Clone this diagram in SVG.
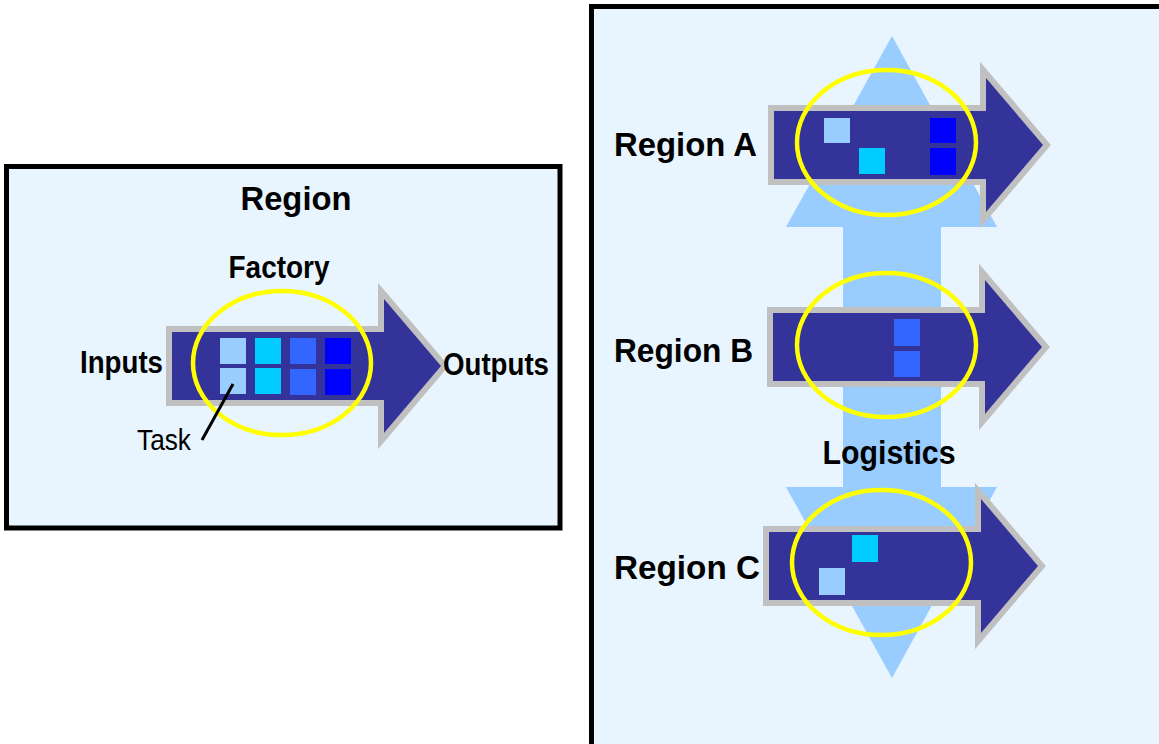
<svg xmlns="http://www.w3.org/2000/svg" width="1159" height="744" viewBox="0 0 1159 744">
  <style>
    .frame { fill: #E8F5FE; stroke: #000000; stroke-width: 5; }
    .flow { fill: #333399; stroke: #C0C0C0; stroke-width: 12; stroke-linejoin: miter; paint-order: stroke; }
    .ring { fill: none; stroke: #FFFF00; stroke-width: 4.5; }
    .t1 { fill: #99CCFF; }
    .t2 { fill: #00CCFF; }
    .t3 { fill: #3366FF; }
    .t4 { fill: #0000FF; }
    .geo { font-family: "Liberation Sans", Arial, sans-serif; font-weight: bold; font-size: 33px; fill: #000000; }
    .narrow { font-family: "Liberation Sans", Arial, sans-serif; font-weight: bold; font-size: 31px; fill: #000000; }
    .plain { font-family: "Liberation Sans", Arial, sans-serif; font-size: 30px; fill: #000000; }
    .leader { stroke: #000000; stroke-width: 3; fill: none; }
  </style>
  <defs>
    <!-- block arrow, origin at the middle of its tail -->
    <path id="flowArrow" d="M0,-34 L212,-34 L212,-67 L269,0 L212,67 L212,34 L0,34 Z"/>
  </defs>

  <rect width="1159" height="744" fill="#FFFFFF"/>

  <!-- single region -->
  <g id="region-box">
    <rect class="frame" x="6.5" y="166.5" width="553.5" height="361.5"/>
    <text class="geo" x="296" y="210" text-anchor="middle" textLength="111" lengthAdjust="spacingAndGlyphs">Region</text>
  </g>

  <g id="factory">
    <use href="#flowArrow" class="flow" x="172" y="366"/>
    <rect class="t1" x="220" y="338" width="26" height="26"/>
    <rect class="t1" x="220" y="368" width="26" height="26"/>
    <rect class="t2" x="255" y="338" width="26" height="26"/>
    <rect class="t2" x="255" y="368" width="26" height="26"/>
    <rect class="t3" x="290" y="338" width="26" height="26"/>
    <rect class="t3" x="290" y="369" width="26" height="26"/>
    <rect class="t4" x="325" y="338" width="26" height="26"/>
    <rect class="t4" x="325" y="369" width="26" height="26"/>
    <ellipse class="ring" cx="282" cy="363" rx="89" ry="72"/>
    <text class="narrow" x="279" y="278" text-anchor="middle" textLength="101" lengthAdjust="spacingAndGlyphs">Factory</text>
  </g>

  <g id="inputs">
    <text class="narrow" x="80" y="373" textLength="83" lengthAdjust="spacingAndGlyphs">Inputs</text>
  </g>
  <g id="outputs">
    <text class="narrow" x="443" y="375" textLength="106" lengthAdjust="spacingAndGlyphs">Outputs</text>
  </g>
  <g id="task">
    <text class="plain" x="137" y="450" textLength="54" lengthAdjust="spacingAndGlyphs">Task</text>
  </g>

  <!-- several regions joined by logistics -->
  <g id="regions-box">
    <rect class="frame" x="591.5" y="6.5" width="620" height="800"/>
  </g>

  <g id="logistics">
    <polygon fill="#99CCFF" points="892,36 997,227 941,227 941,487 997,487 892,678 786,487 843,487 843,227 786,227"/>
  </g>

  <g id="region-a">
    <use href="#flowArrow" class="flow" x="774" y="145"/>
    <rect class="t1" x="824" y="118" width="26" height="25"/>
    <rect class="t2" x="859" y="148" width="26" height="26"/>
    <rect class="t4" x="930" y="118" width="26" height="25"/>
    <rect class="t4" x="930" y="148" width="26" height="27"/>
    <ellipse class="ring" cx="886.5" cy="142.5" rx="89.5" ry="72.5"/>
    <text class="geo" x="614" y="156" textLength="143" lengthAdjust="spacingAndGlyphs">Region A</text>
  </g>

  <g id="region-b">
    <use href="#flowArrow" class="flow" x="773" y="347"/>
    <rect class="t3" x="894" y="319" width="26" height="27"/>
    <rect class="t3" x="894" y="351" width="26" height="26"/>
    <ellipse class="ring" cx="886.5" cy="345" rx="89.5" ry="72"/>
    <text class="geo" x="614" y="362" textLength="139" lengthAdjust="spacingAndGlyphs">Region B</text>
  </g>

  <g id="region-c">
    <use href="#flowArrow" class="flow" x="769" y="566"/>
    <rect class="t2" x="852" y="535" width="26" height="27"/>
    <rect class="t1" x="819" y="568" width="26" height="27"/>
    <ellipse class="ring" cx="881.5" cy="562.5" rx="89.5" ry="72.5"/>
    <text class="geo" x="614" y="579" textLength="146" lengthAdjust="spacingAndGlyphs">Region C</text>
  </g>

  <g id="logistics-label">
    <text class="geo" x="889" y="464" text-anchor="middle" textLength="133" lengthAdjust="spacingAndGlyphs">Logistics</text>
  </g>

  <g id="connectors">
    <line class="leader" x1="233" y1="384" x2="202" y2="440"/>
  </g>
</svg>
